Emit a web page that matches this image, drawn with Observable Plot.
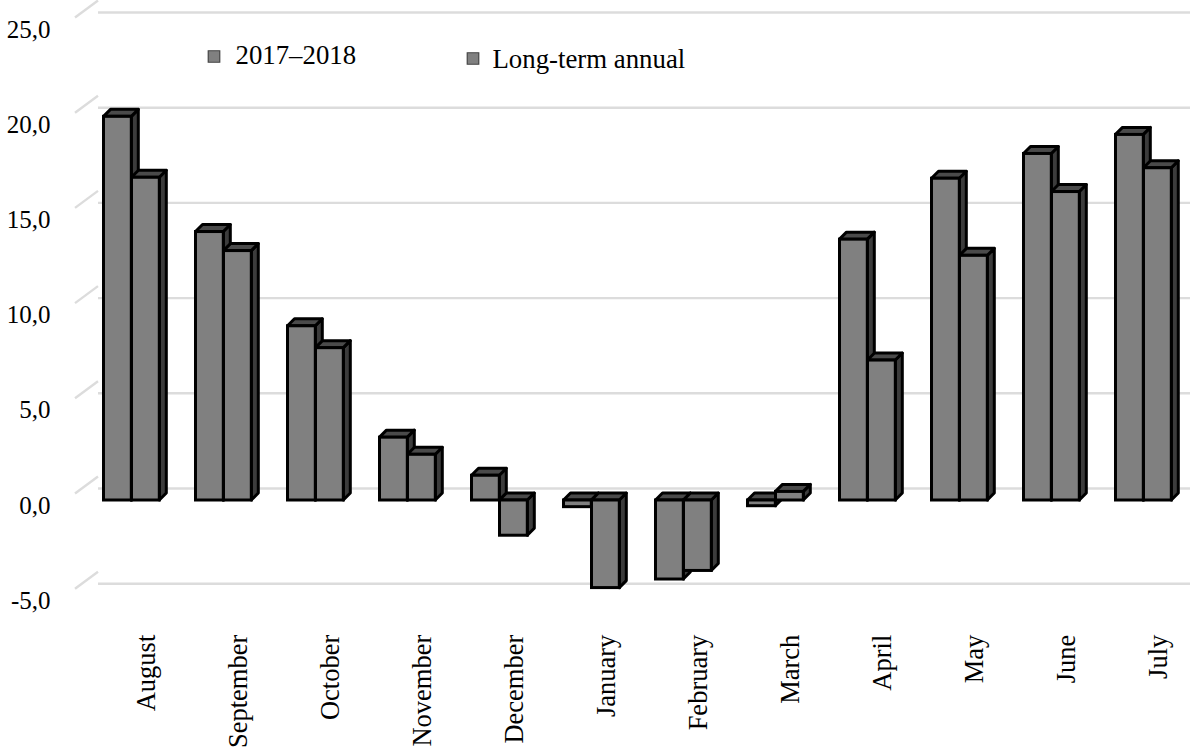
<!DOCTYPE html>
<html>
<head>
<meta charset="utf-8">
<script src="https://cdn.jsdelivr.net/npm/d3@7"></script>
<script src="https://cdn.jsdelivr.net/npm/@observablehq/plot@0.6"></script>
<style>
html,body{margin:0;padding:0;background:#fff;overflow:hidden}
svg{display:block;background:#fff}
</style>
</head>
<body>
<div id="chart"></div>
<script>
const months = ["August","September","October","November","December","January","February","March","April","May","June","July"];
const season = [20.15,14.1,9.15,3.3,1.3,-0.35,-4.15,-0.3,13.7,16.9,18.2,19.2];
const longTerm = [16.95,13.1,8.0,2.4,-1.85,-4.6,-3.7,0.45,7.35,12.85,16.2,17.45];
const seriesNames = ["2017–2018","Long-term annual"];
const yTicks = [-5,0,5,10,15,20,25];

const rowsA = months.map((month,i)=>({month,value:season[i]}));
const rowsB = months.map((month,i)=>({month,value:longTerm[i]}));
const depthX = 7, depthY = 7, wallY = 12, slantX = 24, slantY = 17;
const fmt = d => d3.format(".1f")(d).replace(".",",").replace("−","-");
const SVGNS = "http://www.w3.org/2000/svg";

function poly(points, fill){
  const p = document.createElementNS(SVGNS,"polygon");
  p.setAttribute("points", points.map(q=>q.join(",")).join(" "));
  p.setAttribute("fill", fill);
  p.setAttribute("stroke", "#000");
  p.setAttribute("stroke-width", 3);
  p.setAttribute("stroke-linejoin", "round");
  return p;
}
function bars3d(index, scales, values, dimensions, context, next){
  const g = next(index, scales, values, dimensions, context);
  g.querySelectorAll("rect").forEach(r=>{
    const x=+r.getAttribute("x"), y=+r.getAttribute("y"), w=+r.getAttribute("width"), h=+r.getAttribute("height");
    r.before(poly([[x+w,y],[x+w+depthX,y-depthY],[x+w+depthX,y+h-depthY],[x+w,y+h]],"#3c3c3c"));
    r.before(poly([[x,y],[x+depthX,y-depthY],[x+w+depthX,y-depthY],[x+w,y]],"#4a4a4a"));
  });
  return g;
}
function slants(index, scales, values, dimensions, context, next){
  const g = next(index, scales, values, dimensions, context);
  const left = dimensions.marginLeft + 14;
  yTicks.forEach(t=>{
    const l = document.createElementNS(SVGNS,"line");
    const yy = scales.y(t) - wallY;
    l.setAttribute("x1", left); l.setAttribute("y1", yy);
    l.setAttribute("x2", left - slantX + 1); l.setAttribute("y2", yy + slantY);
    l.setAttribute("stroke", "#dcdcdc"); l.setAttribute("stroke-width", 2.4);
    g.appendChild(l);
  });
  return g;
}
const barStyle = {x:"month", y:"value", fill:"#808080", stroke:"#000", strokeWidth:3, render:bars3d};

const chart = Plot.plot({
  width:1193, height:748,
  marginLeft:84, marginRight:3, marginTop:24, marginBottom:152.8,
  style:{fontFamily:"'Liberation Serif',serif", background:"#fff", overflow:"visible"},
  y:{domain:[-5,25], axis:null},
  x:{domain:months, padding:0, axis:null},
  marks:[
    Plot.ruleY(yTicks,{y:d=>d, dy:-wallY, insetLeft:14, stroke:"#dcdcdc", strokeWidth:2.4, render:slants}),
    Plot.barY(rowsA,{...barStyle, insetLeft:18.5, insetRight:45.7}),
    Plot.barY(rowsB,{...barStyle, insetLeft:46.5, insetRight:17.7}),
    Plot.axisY(yTicks,{tickFormat:fmt, tickSize:0, tickPadding:34, dy:5, fontSize:25, fill:"#000", label:null}),
    Plot.axisX({anchor:"bottom", tickSize:0, tickRotate:-90, tickPadding:39, textAnchor:"end", dx:15, fontSize:26.5, fill:"#000", label:null}),
    Plot.dot([seriesNames[0]],{frameAnchor:"top-left", symbol:"square", r:6.5, fill:"#808080", stroke:"#444", strokeWidth:1.2, dx:129.5, dy:32}),
    Plot.dot([seriesNames[1]],{frameAnchor:"top-left", symbol:"square", r:6.5, fill:"#808080", stroke:"#444", strokeWidth:1.2, dx:388.5, dy:34}),
    Plot.text([seriesNames[0]],{frameAnchor:"top-left", lineAnchor:"middle", text:d=>d, dx:151, dy:31, fontSize:26.8, textAnchor:"start", fill:"#000"}),
    Plot.text([seriesNames[1]],{frameAnchor:"top-left", lineAnchor:"middle", text:d=>d, dx:408, dy:35, fontSize:26.8, textAnchor:"start", fill:"#000"})
  ]
});
document.getElementById("chart").appendChild(chart);
</script>
</body>
</html>
